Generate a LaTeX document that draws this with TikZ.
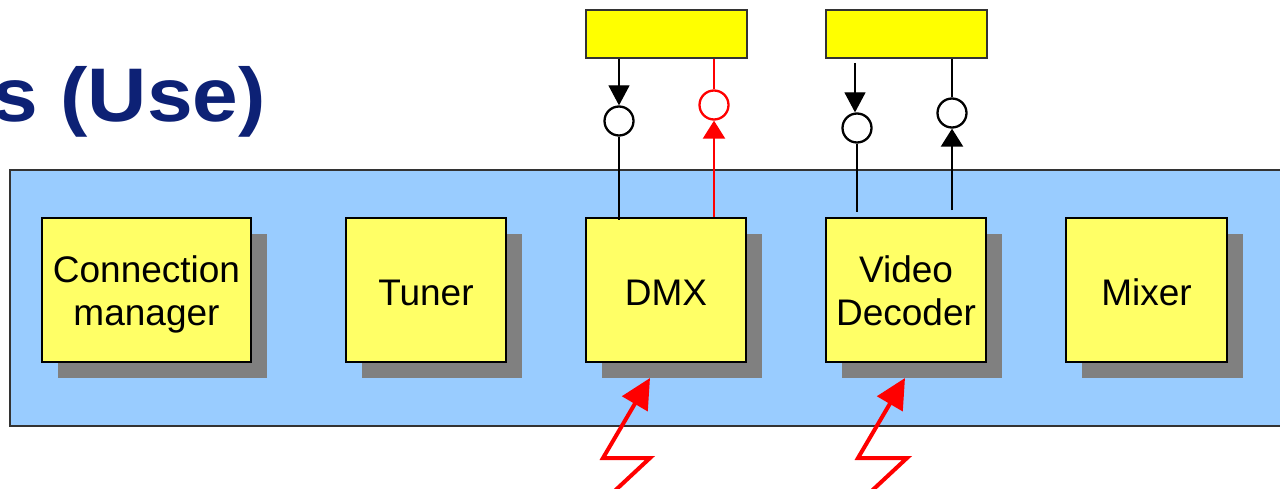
\documentclass[tikz,border=0pt]{standalone}
\usepackage{fontspec}
\setmainfont{Liberation Sans}
\newfontfamily\titlefont[FakeStretch=1.08]{Liberation Sans}
\usetikzlibrary{arrows.meta,shadows}
\definecolor{panelblue}{RGB}{153,204,255}
\definecolor{boxyellow}{RGB}{255,255,102}
\definecolor{topyellow}{RGB}{255,255,0}
\definecolor{titleblue}{RGB}{13,33,117}
\definecolor{shadowgray}{RGB}{128,128,128}
\begin{document}
\begin{tikzpicture}[x=1pt,y=-1pt,
  comp/.style={draw=black, line width=1.5pt, fill=boxyellow, minimum height=144pt,
    minimum width=160pt, align=center, inner sep=0pt,
    text height=31pt, text depth=0pt,
    font=\fontsize{37}{43}\selectfont,
    drop shadow={shadow xshift=16pt, shadow yshift=-16pt, fill=shadowgray, opacity=1, draw=none}},
  twoline/.style={text height=70pt, text depth=0pt},
  iface/.style={draw=black!80, line width=1.5pt, fill=topyellow, minimum width=161pt,
    minimum height=48pt, inner sep=0pt},
  port/.style={circle, draw=black, line width=2.3pt, fill=white, minimum size=29pt, inner sep=0pt},
  thinarrow/.style={line width=1.3pt, -{Triangle[length=20pt,width=21pt]}},
  thickarrow/.style={line width=2.3pt, -{Triangle[length=18pt,width=22pt]}},
  bolt/.style={draw=red, line width=4pt, line join=miter, -{Triangle[length=30pt,width=29pt]}}]
\useasboundingbox (0,0) rectangle (1280,489);
\clip (0,0) rectangle (1280,489);
% title
\node[anchor=base east, inner sep=0pt, text=titleblue,
  font=\fontsize{76}{76}\titlefont\bfseries] (title) at (266,122) {s (Use)};
% panel
\draw[draw=black!80, line width=1.5pt, fill=panelblue] (10,170) rectangle (1300,426);
% components
\node[comp, twoline, minimum width=209pt] (cm) at (146.5,290) {Connection\\manager};
\node[comp] (tuner) at (426,290) {Tuner};
\node[comp] (dmx) at (666,290) {DMX};
\node[comp, twoline] (vd) at (906,290) {Video\\Decoder};
\node[comp, minimum width=161pt] (mix) at (1146.5,290) {Mixer};
% interfaces
\node[iface] (t1) at (666.5,34) {};
\node[iface] (t2) at (906.5,34) {};
% ports
\node[port] (c1) at (619,121) {};
\node[port, draw=red] (c2) at (714,105) {};
\node[port] (c3) at (857,128) {};
\node[port] (c4) at (952,113) {};
% connectors
\draw[thinarrow] (t1.south -| c1) -- (c1.north);
\draw[line width=2.3pt] (c1.south) -- ([yshift=-3pt]c1.south |- dmx.north);
\draw[thickarrow, red] (dmx.north -| c2) -- (c2.south);
\draw[line width=2.3pt, red] (c2.north) -- (c2.north |- t1.south);
\coordinate (s3) at (855,63);
\draw[thinarrow] (s3) -- (s3 |- c3.north);
\draw[line width=2.3pt] (c3.south) -- ([yshift=5pt]c3.south |- vd.north);
\draw[thickarrow] ([yshift=7pt]vd.north -| c4) -- (c4.south);
\draw[line width=2.3pt] (c4.north) -- (c4.north |- t2.south);
% lightning events
\coordinate (z1) at (650,378);
\coordinate (z2) at (905,378);
\draw[bolt] (606,499) -- (650,458) -- (603,458) -- (z1);
\draw[bolt] (863,499) -- (907,458) -- (858,458) -- (z2);
\end{tikzpicture}
\end{document}
